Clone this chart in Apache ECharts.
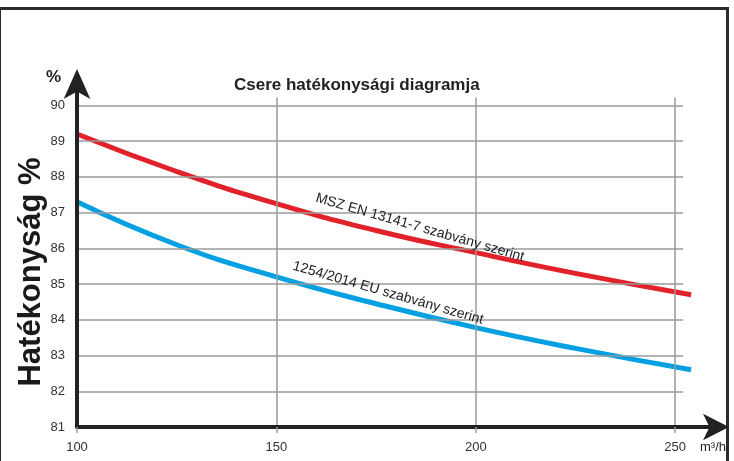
<!DOCTYPE html>
<html lang="hu">
<head>
    <meta charset="UTF-8">
    <title>Csere hatékonysági diagramja</title>
    <script src="https://cdn.jsdelivr.net/npm/echarts@6/dist/echarts.min.js"></script>
    <style>
        html,body{margin:0;padding:0;background:#fff;}
        #frame{position:absolute;left:-2px;top:7px;width:731px;height:470px;border:3px solid #2b2b2b;box-sizing:border-box;}
        #chart{position:absolute;left:0;top:0;width:734px;height:461px;}
    </style>
</head>
<body>
    <div id="frame"></div>
    <div id="chart"></div>
    <script>
        // levegőmennyiség (m3/h)
        var flow = [100, 125, 150, 175, 200, 225, 254];
        // MSZ EN 13141-7 szerint
        var mszEn = [89.2, 88.15, 87.25, 86.5, 85.88, 85.3, 84.7];
        // 1254/2014 EU szerint
        var euReg = [87.3, 86.1, 85.2, 84.45, 83.78, 83.2, 82.6];
        var xGrid = [150, 200, 250];
        var yGrid = [82, 83, 84, 85, 86, 87, 88, 89, 90];

        function pairs(xs, ys) {
            var out = [];
            for (var i = 0; i < xs.length; i++) out.push([xs[i], ys[i]]);
            return out;
        }

        var gridLines = [];
        yGrid.forEach(function (v) {
            gridLines.push([{coord: [100, v]}, {coord: [252, v]}]);
        });
        xGrid.forEach(function (v) {
            gridLines.push([{coord: [v, 81]}, {coord: [v, 90.22]}]);
        });

        var font = "'Liberation Sans Narrow', 'Liberation Sans', Arial, sans-serif";
        var boldFont = "'Liberation Sans', Arial, sans-serif";
        var chart = echarts.init(document.getElementById('chart'));

        function lineLabel(text, coord) {
            return {
                symbol: 'circle',
                symbolSize: 1,
                itemStyle: {color: 'rgba(0,0,0,0)'},
                data: [{coord: coord}],
                label: {show: true, formatter: text, rotate: -16, fontSize: 14, color: '#222', position: 'inside'}
            };
        }

        var option = {
            animation: false,
            textStyle: {fontFamily: font},
            title: {
                text: 'Csere hatékonysági diagramja',
                left: 229,
                top: 72,
                textStyle: {fontSize: 17, fontWeight: 'bold', color: '#222', fontFamily: boldFont}
            },
            grid: {left: 77, right: 11, top: 75, bottom: 34},
            xAxis: {
                type: 'value',
                min: 100,
                max: 262,
                interval: 50,
                z: 5,
                name: 'm³/h',
                nameLocation: 'end',
                nameGap: 3,
                nameTextStyle: {align: 'right', verticalAlign: 'top', padding: [14, 0, 0, 0], fontSize: 13, color: '#222'},
                axisLine: {lineStyle: {color: '#222', width: 4}, symbol: ['none', 'arrow'], symbolSize: [20, 26], symbolOffset: [0, 6]},
                axisTick: {show: true, length: 6, inside: false, lineStyle: {color: '#9a9a9a', width: 1.5}},
                axisLabel: {margin: 14, fontSize: 13, color: '#333', showMaxLabel: false},
                splitLine: {show: false}
            },
            yAxis: {
                type: 'value',
                min: 81,
                max: 90.85,
                interval: 1,
                z: 5,
                name: '%',
                nameLocation: 'end',
                nameGap: -2,
                nameTextStyle: {align: 'right', verticalAlign: 'middle', padding: [0, 16, 0, 0], fontSize: 17, fontWeight: 'bold', color: '#222', fontFamily: boldFont},
                axisLine: {lineStyle: {color: '#222', width: 4}, symbol: ['none', 'arrow'], symbolSize: [20, 30], symbolOffset: [0, 6]},
                axisTick: {show: false},
                axisLabel: {margin: 12, fontSize: 13, color: '#333', showMaxLabel: false},
                splitLine: {show: false}
            },
            graphic: [{
                type: 'text',
                x: 31,
                y: 272,
                rotation: Math.PI / 2,
                style: {
                    text: 'Hatékonyság %',
                    fontSize: 31,
                    fontWeight: 'bold',
                    fontFamily: boldFont,
                    fill: '#1a1a1a',
                    textAlign: 'center',
                    textVerticalAlign: 'middle'
                }
            }],
            series: [
                {
                    name: 'grid',
                    type: 'line',
                    data: [],
                    z: 1,
                    silent: true,
                    markLine: {
                        silent: true,
                        symbol: 'none',
                        label: {show: false},
                        lineStyle: {color: '#9a9a9a', width: 1.5, type: 'solid'},
                        data: gridLines
                    }
                },
                {
                    name: 'MSZ EN 13141-7 szabvány szerint',
                    type: 'line',
                    smooth: true,
                    showSymbol: false,
                    clip: false,
                    lineStyle: {color: '#e2222a', width: 5},
                    data: pairs(flow, mszEn),
                    markPoint: lineLabel('MSZ EN 13141-7 szabvány szerint', [186, 86.58])
                },
                {
                    name: '1254/2014 EU szabvány szerint',
                    type: 'line',
                    smooth: true,
                    showSymbol: false,
                    clip: false,
                    lineStyle: {color: '#04a0e2', width: 5},
                    data: pairs(flow, euReg),
                    markPoint: lineLabel('1254/2014 EU szabvány szerint', [178, 84.75])
                }
            ]
        };
        chart.setOption(option);
    </script>
</body>
</html>
